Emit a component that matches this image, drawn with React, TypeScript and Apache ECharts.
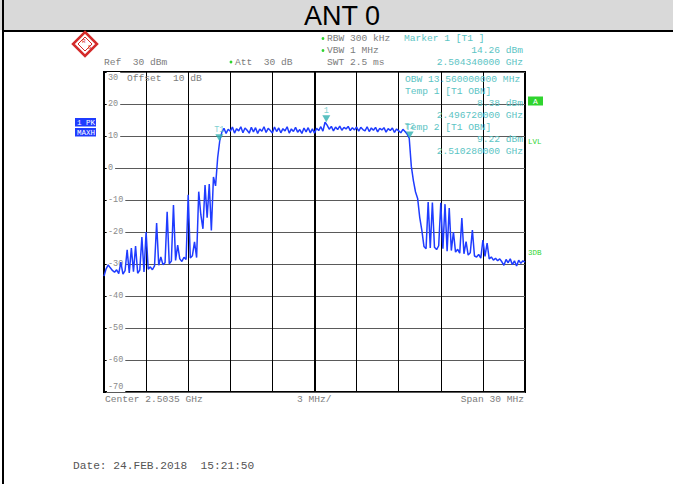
import React, { useEffect, useRef } from "react";
import * as echarts from "echarts";

// Sweep: 2.4885 GHz .. 2.5185 GHz (center 2.5035 GHz, span 30 MHz), x axis = MHz from sweep start
const SPAN_MHZ = 30;
const START_MHZ = 2488.5;
const STEP_MHZ = 0.15;

// Trace 1 (PK / MAXH), dBm, one value per sweep point
const TRACE_LOW_EDGE = [
  -33.8, -31.5, -30.3, -31.2, -32.0, -32.6, -31.8, -33.0, -29.4, -33.2,
  -32.1, -25.6, -32.8, -25.0, -32.4, -24.4, -32.9, -31.9, -21.6, -32.5,
  -20.0, -31.6, -30.9, -31.8, -30.6, -17.2, -30.4, -27.8, -30.2, -29.6,
  -13.7, -29.9, -29.1, -11.6, -28.9, -24.1, -28.4, -29.2, -27.9, -28.6,
  -8.4, -28.1, -27.4, -23.1, -28.0, -7.4, -14.6, -19.0, -5.3, -15.5,
  -5.0, -19.5, -2.8, -5.6, 3.2, 8.6,
];
const TRACE_CHANNEL = [
  11.2, 12.4, 10.8, 12.1, 11.5, 12.8, 10.9, 12.3, 11.6, 12.9,
  11.0, 12.5, 11.8, 10.9, 12.7, 11.3, 12.6, 10.8, 12.2, 11.5,
  12.9, 11.1, 12.4, 11.7, 10.9, 12.8, 11.4, 12.5, 11.0, 12.3,
  11.6, 12.9, 10.9, 12.2, 11.4, 12.7, 11.2, 12.0, 10.8, 12.5,
  11.3, 12.6, 11.0, 12.2, 10.9, 12.4, 11.7, 12.9, 11.5, 14.3,
  13.4, 12.1, 13.0, 11.6, 12.8, 12.0, 13.1, 11.8, 12.7, 12.2,
  13.0, 11.7, 12.6, 11.9, 12.8, 11.5, 12.7, 12.0, 11.6, 12.9,
  11.4, 12.5, 11.8, 12.7, 11.3, 12.4, 11.9, 12.6, 11.2, 12.3,
  11.7, 12.5, 11.1, 12.2, 11.6, 11.0, 12.1, 11.4, 10.6, 9.3,
];
const TRACE_HIGH_EDGE = [
  0.5, -4.0, -7.5, -9.5, -15.5, -19.5, -24.5, -25.2, -10.6, -25.0,
  -10.8, -24.8, -25.5, -24.3, -10.9, -25.2, -11.3, -26.0, -12.5, -25.8,
  -20.0, -26.3, -25.4, -26.6, -15.6, -26.8, -23.0, -27.2, -26.5, -19.4,
  -27.5, -27.8, -27.0, -28.2, -22.5, -27.6, -23.5, -28.4, -27.8, -28.8,
  -28.2, -29.0, -28.4, -29.3, -30.4, -28.6, -29.6, -28.4, -30.2, -29.0,
  -30.6, -28.8, -29.8, -29.0, -29.4,
];

// Markers (label, frequency GHz, level dBm)
const MARKER_LABELS = ["1", "T1", "T2"];
const MARKER_FREQ_GHZ = [2.50434, 2.49672, 2.51028];
const MARKER_LEVEL_DBM = [14.26, 8.38, 9.22];

// Y axis: reference level 30 dBm, 10 dB/div
const Y_MIN = -70;
const Y_MAX = 30;
const Y_STEP = 10;
const X_STEP = 3;

const GRAY = "#7c7c7c";
const TEAL = "#5cc4c4";
const GREEN = "#2fd42f";
const BLUE = "#1f3cff";
const MONO = '"Liberation Mono", "DejaVu Sans Mono", monospace';

function txt(text: string, x: number, y: number, fill: string, size = 9.6, align = "left", extra: any = {}) {
  return {
    type: "text",
    silent: true,
    z: 20,
    style: {
      text,
      x,
      y,
      fill,
      font: `${size}px ${MONO}`,
      textAlign: align,
      textVerticalAlign: "middle",
      ...extra,
    },
  };
}

export default function App() {
  const ref = useRef<HTMLDivElement>(null);

  useEffect(() => {
    if (!ref.current) return;
    const chart = echarts.init(ref.current, undefined, { renderer: "svg" });

    const trace = [...TRACE_LOW_EDGE, ...TRACE_CHANNEL, ...TRACE_HIGH_EDGE];
    const traceData = trace.map((v, i) => [i * STEP_MHZ, v]);
    const markerData = MARKER_LABELS.map((name, k) => ({
      name,
      value: [MARKER_FREQ_GHZ[k] * 1000 - START_MHZ, MARKER_LEVEL_DBM[k]],
    }));

    const graphic: any[] = [
      { type: "rect", silent: true, z: 1, shape: { x: 0, y: 0, width: 673, height: 30 }, style: { fill: "#d9d9d9" } },
      { type: "line", silent: true, z: 2, shape: { x1: 3, y1: 0, x2: 3, y2: 484 }, style: { stroke: "#000", lineWidth: 2 } },
      { type: "line", silent: true, z: 2, shape: { x1: 3, y1: 31, x2: 673, y2: 31 }, style: { stroke: "#000", lineWidth: 2 } },
      {
        type: "text",
        silent: true,
        z: 3,
        style: {
          text: "ANT 0",
          x: 342,
          y: 16,
          fill: "#000",
          font: '27px "Liberation Sans", Arial, sans-serif',
          textAlign: "center",
          textVerticalAlign: "middle",
        },
      },
      // R&S logo
      {
        type: "polygon",
        silent: true,
        z: 5,
        shape: { points: [[85, 32], [97, 44], [85, 56], [73, 44]] },
        style: { fill: "#fff", stroke: "#d42a2a", lineWidth: 2.5 },
      },
      {
        type: "polygon",
        silent: true,
        z: 5,
        shape: { points: [[85, 37], [92, 44], [85, 51], [78, 44]] },
        style: { fill: "none", stroke: "#d42a2a", lineWidth: 1 },
      },
      txt("R", 82, 41, "#d42a2a", 6),
      txt("S", 88, 47, "#d42a2a", 6),
      // green "enhanced" markers
      { type: "circle", silent: true, z: 5, shape: { cx: 323, cy: 38.5, r: 1.4 }, style: { fill: GREEN } },
      { type: "circle", silent: true, z: 5, shape: { cx: 323, cy: 50.5, r: 1.4 }, style: { fill: GREEN } },
      { type: "circle", silent: true, z: 5, shape: { cx: 231, cy: 62, r: 1.4 }, style: { fill: GREEN } },
      // header texts
      txt("Ref  30 dBm", 104, 62, GRAY),
      txt("Att  30 dB", 235, 62, GRAY),
      txt("RBW 300 kHz", 327, 38.5, GRAY),
      txt("VBW 1 MHz", 327, 50.5, GRAY),
      txt("SWT 2.5 ms", 327, 62, GRAY),
      txt("Marker 1 [T1 ]", 404, 38.5, TEAL),
      txt("14.26 dBm", 523, 50.5, TEAL, 9.6, "right"),
      txt("2.504340000 GHz", 523, 62, TEAL, 9.6, "right"),
      // in-plot texts
      txt("Offset  10 dB", 127, 78, GRAY),
      txt("OBW 13.560000000 MHz", 405, 79, TEAL),
      txt("Temp 1 [T1 OBN]", 405, 91, TEAL),
      txt("8.38 dBm", 523, 103, TEAL, 9.6, "right"),
      txt("2.496720000 GHz", 523, 115, TEAL, 9.6, "right"),
      txt("Temp 2 [T1 OBN]", 405, 127, TEAL),
      txt("9.22 dBm", 523, 139, TEAL, 9.6, "right"),
      txt("2.510280000 GHz", 523, 151, TEAL, 9.6, "right"),
      // trace info boxes
      { type: "rect", silent: true, z: 5, shape: { x: 75, y: 118, width: 21, height: 8.5 }, style: { fill: BLUE } },
      { type: "rect", silent: true, z: 5, shape: { x: 75, y: 128, width: 21, height: 8.5 }, style: { fill: BLUE } },
      txt("1 PK", 77, 122.5, "#fff", 7.5),
      txt("MAXH", 77, 132.5, "#fff", 7.5),
      // right side indicators
      { type: "rect", silent: true, z: 5, shape: { x: 528, y: 96.5, width: 15, height: 9 }, style: { fill: GREEN } },
      txt("A", 535.5, 101.2, "#fff", 8, "center"),
      txt("LVL", 528, 141.5, GREEN, 7.5),
      txt("3DB", 528, 252.5, GREEN, 7.5),
      // footer texts
      txt("Center 2.5035 GHz", 105, 399, GRAY),
      txt("3 MHz/", 297, 399, GRAY),
      txt("Span 30 MHz", 524, 399, GRAY, 9.6, "right"),
      txt("Date: 24.FEB.2018  15:21:50", 73, 466, "#555", 11.2),
    ];

    chart.setOption({
      animation: false,
      backgroundColor: "#fff",
      grid: {
        left: 104,
        top: 72,
        width: 421,
        height: 320,
        show: true,
        borderColor: "#000",
        borderWidth: 2,
        backgroundColor: "transparent",
      },
      xAxis: {
        type: "value",
        min: 0,
        max: SPAN_MHZ,
        interval: X_STEP,
        axisLine: { show: false },
        axisTick: { show: false },
        axisLabel: { show: false },
        splitLine: { show: true, lineStyle: { color: "#000", width: 1 } },
      },
      yAxis: {
        type: "value",
        min: Y_MIN,
        max: Y_MAX,
        interval: Y_STEP,
        axisLine: { show: false },
        axisTick: { show: true, inside: true, length: 2, lineStyle: { color: "#000" } },
        splitLine: { show: true, lineStyle: { color: "#5a5a5a", width: 1 } },
        axisLabel: {
          inside: true,
          margin: 3,
          color: "#8a8a8a",
          fontFamily: MONO,
          fontSize: 8.5,
          backgroundColor: "#fff",
          padding: [1, 2, 1, 1],
          verticalAlign: "middle",
          verticalAlignMaxLabel: "top",
          verticalAlignMinLabel: "bottom",
        },
      },
      series: [
        {
          type: "line",
          data: traceData,
          symbol: "none",
          z: 5,
          lineStyle: { color: BLUE, width: 1.5 },
          markLine: {
            silent: true,
            symbol: ["none", "none"],
            label: { show: false },
            lineStyle: { color: "#000", width: 2, type: "solid" },
            data: [{ xAxis: SPAN_MHZ / 2 }],
            z: 1,
          },
        },
        {
          type: "scatter",
          data: markerData,
          z: 6,
          symbol: "triangle",
          symbolRotate: 180,
          symbolSize: [8, 7],
          symbolOffset: [0, -3.5],
          itemStyle: { color: "#2fb0b0" },
          label: {
            show: true,
            formatter: "{b}",
            position: "top",
            distance: 1,
            offset: [0, 1],
            color: TEAL,
            fontFamily: MONO,
            fontSize: 8.5,
          },
        },
      ],
      graphic,
    });

    return () => chart.dispose();
  }, []);

  return (
    <div
      ref={ref}
      style={{ position: "fixed", left: 0, top: 0, width: 673, height: 484 }}
    />
  );
}
